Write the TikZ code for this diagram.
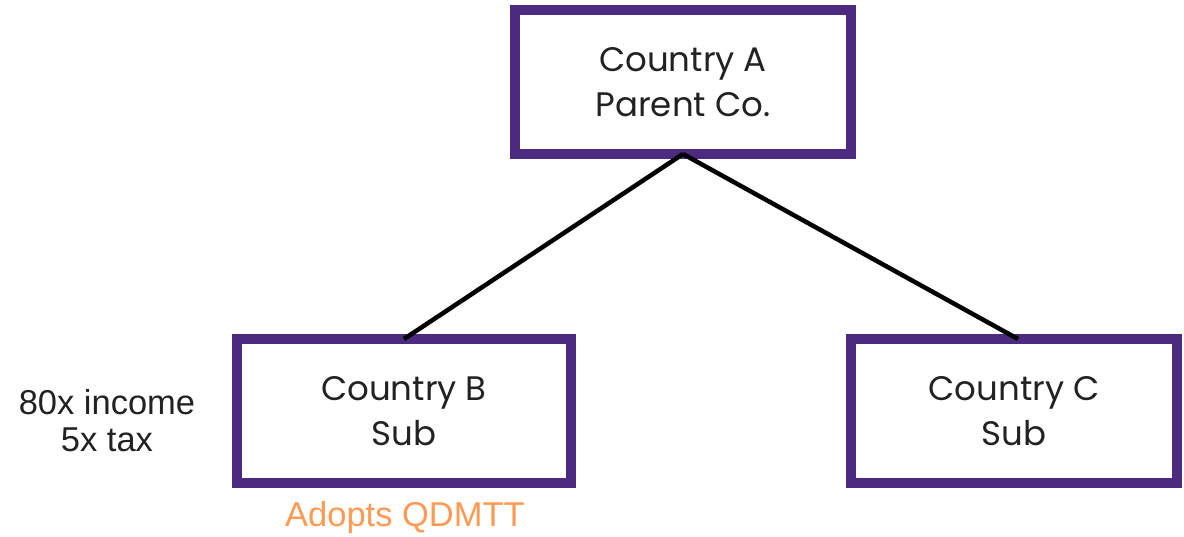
\documentclass[tikz,border=0pt]{standalone}
\usepackage{fontspec}
\setmainfont{Poppins}
\newfontfamily\arialfont{Liberation Sans}
\definecolor{boxpurple}{HTML}{4B2A7F}
\definecolor{qorange}{HTML}{FF9A55}
\definecolor{txt}{HTML}{222222}
\begin{document}
\begin{tikzpicture}[x=1pt,y=-1pt,
  entity/.style={draw=boxpurple, line width=10pt, rectangle, inner sep=0pt, outer sep=0pt,
    minimum width=#1, minimum height=144pt, fill=white, align=center, text=txt,
    font=\fontsize{34}{45}\selectfont},
  link/.style={line width=4.5pt, black},
  note/.style={font=\arialfont\fontsize{34.5}{37}\selectfont, align=center}]
\useasboundingbox (0,0) rectangle (1184,537);
\node[entity=336pt] (A) at (683,82) {Country A\\Parent Co.};
\node[entity=334pt] (B) at (404,411) {Country B\\Sub};
\node[entity=326pt] (C) at (1014,411) {Country C\\Sub};
\draw[link] (A.south) -- (B.north);
\draw[link] ([xshift=0pt]A.south) -- ([xshift=4pt]C.north);
\node[note, text=txt] (inc) at (107,421) {80x income\\5x tax};
\node[note, text=qorange] (q) at (405,518) {Adopts QDMTT};
\end{tikzpicture}
\end{document}
